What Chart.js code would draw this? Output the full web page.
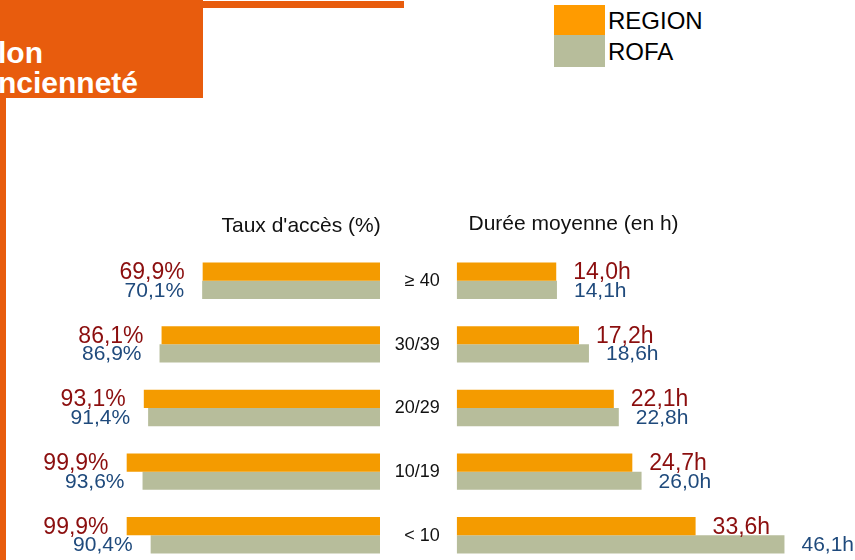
<!DOCTYPE html>
<html>
<head>
<meta charset="utf-8">
<script src="https://cdn.jsdelivr.net/npm/chart.js@4/dist/chart.umd.min.js"></script>
<style>
  html, body { margin: 0; padding: 0; background: #fff; overflow: hidden; width: 855px; height: 560px; }
  body { position: relative; font-family: "Liberation Sans", Arial, sans-serif; }
  .abs { position: absolute; }
  .hdr { color: #fff; font-weight: bold; font-size: 30px; line-height: 1; white-space: nowrap; }
  .leg { color: #000; font-size: 24px; line-height: 1; white-space: nowrap; }
</style>
</head>
<body>
<div class="abs" style="left:0;top:0;width:203px;height:98px;background:#E85C0D;"></div>
<div class="abs" style="left:203px;top:1px;width:201px;height:7px;background:#E85C0D;"></div>
<div class="abs" style="left:0;top:98px;width:6px;height:462px;background:#E85C0D;"></div>
<div class="abs hdr" style="left:-2px;top:38px;">lon</div>
<div class="abs hdr" style="left:-2px;top:68px;">ncienneté</div>

<div class="abs" style="left:554px;top:5px;width:51px;height:30px;background:#FF9B00;"></div>
<div class="abs" style="left:554px;top:35px;width:51px;height:32px;background:#B7BD9B;"></div>
<div class="abs leg" style="left:608px;top:9px;">REGION</div>
<div class="abs leg" style="left:608px;top:39.7px;">ROFA</div>

<canvas id="left" class="abs" style="left:0;top:0;" width="385" height="620"></canvas>
<canvas id="right" class="abs" style="left:385px;top:0;" width="470" height="620"></canvas>

<script>
// ---- data ----
const categories = ['≥ 40', '30/39', '20/29', '10/19', '< 10'];
const seriesNames = ['REGION', 'ROFA'];
const regionAcces = [69.9, 86.1, 93.1, 99.9, 99.9];
const rofaAcces = [70.1, 86.9, 91.4, 93.6, 90.4];
const regionDuree = [14.0, 17.2, 22.1, 24.7, 33.6];
const rofaDuree = [14.1, 18.6, 22.8, 26.0, 46.1];
const titleAcces = "Taux d'accès (%)";
const titleDuree = 'Durée moyenne (en h)';

const ORANGE = '#F49B00';
const GREY = '#B7BD9B';
const RED = '#8B0E0E';
const BLUE = '#1F4A7C';
const FONT = '"Liberation Sans", Arial, sans-serif';

function fmt(v) { return v.toFixed(1).replace('.', ','); }

function makeDatasets(a, b) {
  return [
    { label: seriesNames[0], data: a, backgroundColor: ORANGE, borderWidth: 0,
      categoryPercentage: 0.572, barPercentage: 1.0 },
    { label: seriesNames[1], data: b, backgroundColor: GREY, borderWidth: 0,
      categoryPercentage: 0.572, barPercentage: 1.0 }
  ];
}

function labelPlugin(side, suffix) {
  return {
    id: 'vals_' + side,
    afterDatasetsDraw(chart) {
      const ctx = chart.ctx;
      ctx.save();
      chart.data.datasets.forEach((ds, i) => {
        const meta = chart.getDatasetMeta(i);
        meta.data.forEach((bar, j) => {
          const txt = fmt(ds.data[j]) + suffix;
          ctx.font = (i === 0 ? '23px ' : '21px ') + FONT;
          ctx.fillStyle = i === 0 ? RED : BLUE;
          ctx.textBaseline = 'middle';
          if (side === 'left') {
            ctx.textAlign = 'right';
            ctx.fillText(txt, bar.x - 18, bar.y + 1);
          } else {
            ctx.textAlign = 'left';
            ctx.fillText(txt, bar.x + 17, bar.y + 1);
          }
        });
      });
      ctx.restore();
    }
  };
}

const leftExtras = {
  id: 'leftExtras',
  afterDraw(chart) {
    const ctx = chart.ctx;
    ctx.save();
    ctx.font = '21px ' + FONT;
    ctx.fillStyle = '#111';
    ctx.textAlign = 'left';
    ctx.textBaseline = 'alphabetic';
    ctx.fillText(titleAcces, 221.5, 232.3);
    ctx.restore();
  }
};

const rightExtras = {
  id: 'rightExtras',
  afterDraw(chart) {
    const ctx = chart.ctx;
    const ys = chart.scales.y;
    ctx.save();
    ctx.font = '21px ' + FONT;
    ctx.fillStyle = '#111';
    ctx.textAlign = 'left';
    ctx.textBaseline = 'alphabetic';
    ctx.fillText(titleDuree, 83.5, 229.5);
    ctx.font = '18px ' + FONT;
    ctx.textAlign = 'right';
    ctx.textBaseline = 'middle';
    chart.data.labels.forEach((lab, i) => {
      ctx.fillText(lab, chart.chartArea.left - 17, ys.getPixelForValue(i) + 0.5);
    });
    ctx.restore();
  }
};

function baseOptions(maxX, reverse, pad) {
  return {
    indexAxis: 'y',
    responsive: false,
    maintainAspectRatio: false,
    devicePixelRatio: 1,
    animation: false,
    layout: { padding: pad },
    plugins: { legend: { display: false }, tooltip: { enabled: false }, title: { display: false } },
    scales: {
      x: { display: false, min: 0, max: maxX, reverse: reverse },
      y: { display: false }
    }
  };
}

new Chart(document.getElementById('left'), {
  type: 'bar',
  data: { labels: categories, datasets: makeDatasets(regionAcces, rofaAcces) },
  options: baseOptions(100, true, { left: 126.3, right: 5, top: 248.9, bottom: 52.9 }),
  plugins: [labelPlugin('left', '%'), leftExtras]
});

new Chart(document.getElementById('right'), {
  type: 'bar',
  data: { labels: categories, datasets: makeDatasets(regionDuree, rofaDuree) },
  options: baseOptions(50, false, { left: 71.7, right: 42.8, top: 248.9, bottom: 52.9 }),
  plugins: [labelPlugin('right', 'h'), rightExtras]
});
</script>
</body>
</html>
